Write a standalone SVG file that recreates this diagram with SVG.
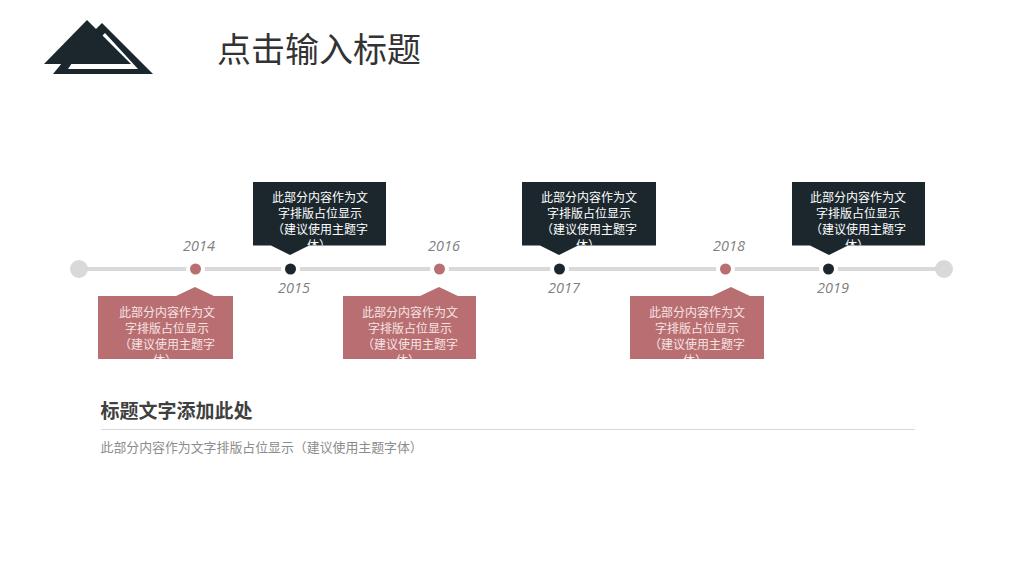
<svg xmlns="http://www.w3.org/2000/svg" width="1024" height="576" viewBox="0 0 1024 576">
<style>
text{font-family:"Microsoft YaHei","Noto Sans CJK SC","Noto Sans",sans-serif}
.dark{fill:#1b272d}.pink{fill:#b96f71}.gray{fill:#d9d9d9}
.ring{stroke:#fff;stroke-width:4}
.year{font-family:"Open Sans","Liberation Sans",sans-serif;font-style:italic;font-size:14.5px;fill:#7f7f7f;text-anchor:middle}
.body{font-size:12px;fill:#fff;text-anchor:middle}
.pb{fill:#f6e4e4}
</style>
<defs>
<clipPath id="c1"><rect x="98" y="296" width="135" height="63"/></clipPath>
<clipPath id="c2"><rect x="253" y="182" width="133" height="63.500"/></clipPath>
<clipPath id="c3"><rect x="343" y="296" width="133" height="63"/></clipPath>
<clipPath id="c4"><rect x="522" y="182" width="134" height="63.500"/></clipPath>
<clipPath id="c5"><rect x="630" y="296" width="134" height="63"/></clipPath>
<clipPath id="c6"><rect x="792" y="182" width="133" height="63.500"/></clipPath>
</defs>
<rect width="1024" height="576" fill="#fff"/>
<g id="logo">
<path class="dark" d="M53 74 H153 L102 23 L92 33 L62 63 Z"/>
<path fill="#fff" d="M68 69 H138 L105 33 L100 38 L72 63 Z"/>
<path class="dark" d="M44 64 L87 20 L131 64 Z"/>
</g>
<text id="title" x="217" y="62" font-size="34" fill="#333">点击输入标题</text>
<g id="connectors">
<rect class="gray" x="79" y="267" width="866" height="4"/>
</g>
<g id="end-left"><circle class="gray" cx="79" cy="269" r="9"/></g>
<g id="end-right"><circle class="gray" cx="944" cy="269" r="9"/></g>

<g id="node-2014">
<circle class="pink ring" cx="195.500" cy="269" r="7.500"/>
<text class="year" x="199" y="251">2014</text>
<path class="pink" d="M98 296 H176 L195 287 L214 296 H233 V359 H98 Z"/>
<g clip-path="url(#c1)"><text class="body pb" x="167" y="316.500">此部分内容作为文</text><text class="body pb" x="167" y="332.500">字排版占位显示</text><text class="body pb" x="167" y="348.500">（建议使用主题字</text><text class="body pb" x="165" y="364.500">体）</text></g>
</g>
<g id="node-2015">
<circle class="dark ring" cx="290.500" cy="269" r="7.500"/>
<text class="year" x="294" y="293">2015</text>
<path class="dark" d="M253 182 H386 V245.500 H309 L290 255 L271 245.500 H253 Z"/>
<g clip-path="url(#c2)"><text class="body" x="320" y="202">此部分内容作为文</text><text class="body" x="320" y="218">字排版占位显示</text><text class="body" x="320" y="234">（建议使用主题字</text><text class="body" x="319" y="250">体）</text></g>
</g>
<g id="node-2016">
<circle class="pink ring" cx="439.500" cy="269" r="7.500"/>
<text class="year" x="444" y="251">2016</text>
<path class="pink" d="M343 296 H420 L439 287 L458 296 H476 V359 H343 Z"/>
<g clip-path="url(#c3)"><text class="body pb" x="410" y="316.500">此部分内容作为文</text><text class="body pb" x="410" y="332.500">字排版占位显示</text><text class="body pb" x="410" y="348.500">（建议使用主题字</text><text class="body pb" x="408" y="364.500">体）</text></g>
</g>
<g id="node-2017">
<circle class="dark ring" cx="559.500" cy="269" r="7.500"/>
<text class="year" x="564" y="293">2017</text>
<path class="dark" d="M522 182 H656 V245.500 H578 L559 255 L540 245.500 H522 Z"/>
<g clip-path="url(#c4)"><text class="body" x="589" y="202">此部分内容作为文</text><text class="body" x="589" y="218">字排版占位显示</text><text class="body" x="589" y="234">（建议使用主题字</text><text class="body" x="588" y="250">体）</text></g>
</g>
<g id="node-2018">
<circle class="pink ring" cx="725.500" cy="269" r="7.500"/>
<text class="year" x="729" y="251">2018</text>
<path class="pink" d="M630 296 H712 L731 287 L750 296 H764 V359 H630 Z"/>
<g clip-path="url(#c5)"><text class="body pb" x="697" y="316.500">此部分内容作为文</text><text class="body pb" x="697" y="332.500">字排版占位显示</text><text class="body pb" x="697" y="348.500">（建议使用主题字</text><text class="body pb" x="695" y="364.500">体）</text></g>
</g>
<g id="node-2019">
<circle class="dark ring" cx="828.500" cy="269" r="7.500"/>
<text class="year" x="833" y="293">2019</text>
<path class="dark" d="M792 182 H925 V245.500 H848 L829 255 L810 245.500 H792 Z"/>
<g clip-path="url(#c6)"><text class="body" x="858" y="202">此部分内容作为文</text><text class="body" x="858" y="218">字排版占位显示</text><text class="body" x="858" y="234">（建议使用主题字</text><text class="body" x="857" y="250">体）</text></g>
</g>
<g id="summary">
<text x="100.500" y="418" font-size="19" font-weight="700" fill="#404040">标题文字添加此处</text>
<rect x="101" y="429" width="814" height="1" fill="#d9d9d9"/>
<text x="100.500" y="452" font-size="12.900" fill="#8c8c8c">此部分内容作为文字排版占位显示（建议使用主题字体）</text>
</g>
</svg>
